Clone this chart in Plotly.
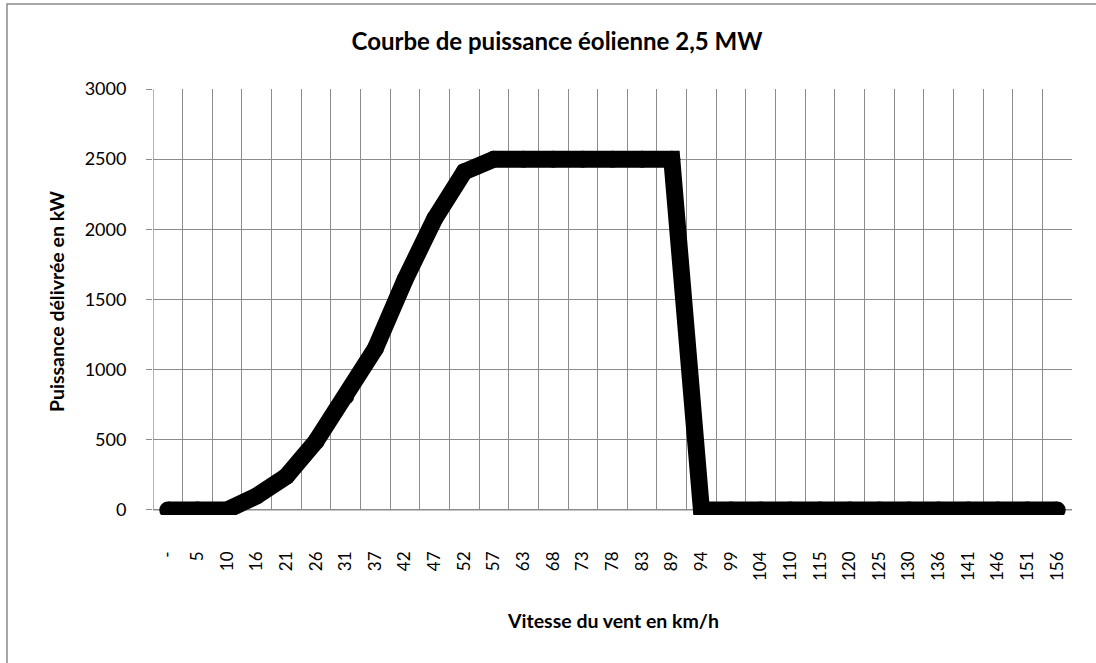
import plotly.graph_objects as go

# Data
categories = ["-", "5", "10", "16", "21", "26", "31", "37", "42", "47", "52",
              "57", "63", "68", "73", "78", "83", "89", "94", "99", "104",
              "110", "115", "120", "125", "130", "136", "141", "146", "151", "156"]
power_kw = [0, 0, 0, 100, 240, 490, 810, 1150, 1640, 2075, 2410,
            2500, 2500, 2500, 2500, 2500, 2500, 2500, 0, 0, 0,
            0, 0, 0, 0, 0, 0, 0, 0, 0, 0]
y_ticks = [0, 500, 1000, 1500, 2000, 2500, 3000]

W, H = 1096, 663
L, R, T, B = 153, 1072, 89, 515
Y_MIN, Y_MAX = -36, 3000
GRID = "#8c8c8c"
FONT = "Lato"

pw, ph = R - L, B - T
def px_x(x):
    return (x - L) / pw
def px_y(y):
    return (B - y) / ph

fig = go.Figure()
fig.add_trace(go.Scatter(
    x=categories, y=power_kw, mode="lines+markers",
    line=dict(color="black", width=17),
    marker=dict(color="black", size=17),
    showlegend=False, hoverinfo="skip",
))

n = len(categories)
x_lo, x_hi = -0.5, n - 0.5
fig.update_layout(
    width=W, height=H,
    margin=dict(l=L, r=W - R, t=T, b=H - B, pad=0, autoexpand=False),
    paper_bgcolor="white", plot_bgcolor="white",
    font=dict(family=FONT, color="black"),
    title=dict(text="<b>Courbe de puissance éolienne 2,5 MW</b>",
               xref="container", yref="container",
               x=557 / W, y=1 - 42 / H, xanchor="center", yanchor="middle",
               font=dict(size=24, family=FONT, color="black")),
    xaxis=dict(type="category", categoryorder="array", categoryarray=categories,
               range=[x_lo, x_hi], tickson="boundaries",
               showgrid=True, gridcolor=GRID, gridwidth=1,
               showline=False, ticks="", zeroline=False,
               tickangle=-90, ticklabelstandoff=32, automargin=False,
               tickfont=dict(size=17, family=FONT, color="black")),
    yaxis=dict(range=[Y_MIN, Y_MAX], tickvals=y_ticks,
               showgrid=True, gridcolor=GRID, gridwidth=1,
               zeroline=False, showline=False, automargin=False,
               ticks="outside", ticklen=6, tickcolor=GRID,
               ticklabelstandoff=16,
               tickfont=dict(size=18, family=FONT, color="black")),
    shapes=[
        # hide gridlines below zero
        dict(type="rect", xref="x", yref="y", x0=x_lo, x1=x_hi, y0=Y_MIN, y1=0,
             fillcolor="white", line=dict(width=0), layer="between"),
        # category axis line
        dict(type="line", xref="x", yref="y", x0=x_lo, x1=x_hi, y0=0, y1=0,
             line=dict(color=GRID, width=1.3), layer="between"),
        # value axis line
        dict(type="line", xref="x", yref="y", x0=x_lo, x1=x_lo, y0=0, y1=Y_MAX,
             line=dict(color=GRID, width=1.3), layer="between"),
        # chart outer border
        dict(type="rect", xref="paper", yref="paper",
             x0=px_x(7), x1=px_x(1102), y0=px_y(670), y1=px_y(4),
             line=dict(color="#8a8a8a", width=1.5), fillcolor="rgba(0,0,0,0)",
             layer="below"),
    ],
    annotations=[
        dict(text="<b>Puissance délivrée en kW</b>", xref="paper", yref="paper",
             x=px_x(56), y=px_y(301), xanchor="center", yanchor="middle",
             textangle=-90, showarrow=False,
             font=dict(size=19.5, family=FONT, color="black")),
        dict(text="<b>Vitesse du vent en km/h</b>", xref="paper", yref="paper",
             x=px_x(612.5), y=px_y(620), xanchor="center", yanchor="middle",
             showarrow=False, font=dict(size=19.5, family=FONT, color="black")),
    ],
)

fig.write_html(
    "out.html",
    config={"displayModeBar": False, "staticPlot": True},
    post_script="document.body.style.margin='0';document.body.style.overflow='hidden';",
)
